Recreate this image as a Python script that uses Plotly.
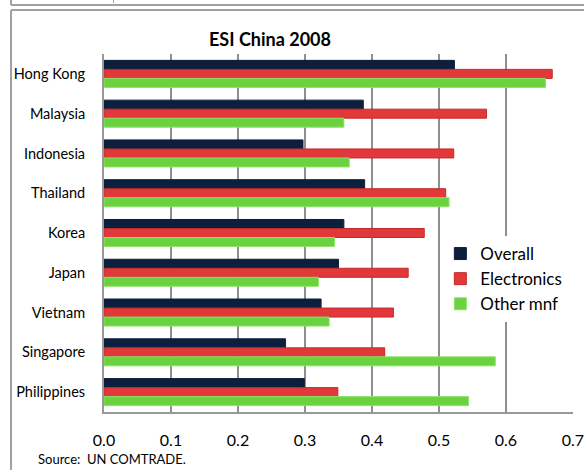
import plotly.graph_objects as go

countries = ['Hong Kong', 'Malaysia', 'Indonesia', 'Thailand', 'Korea',
             'Japan', 'Vietnam', 'Singapore', 'Philippines']
overall = [0.523, 0.387, 0.297, 0.389, 0.358, 0.350, 0.324, 0.271, 0.299]
electronics = [0.669, 0.571, 0.522, 0.510, 0.478, 0.454, 0.432, 0.419, 0.349]
other_mnf = [0.659, 0.358, 0.366, 0.515, 0.344, 0.320, 0.336, 0.584, 0.544]
x_ticks = [0.0, 0.1, 0.2, 0.3, 0.4, 0.5, 0.6, 0.7]

W, H = 584, 470
L, R, T, B = 103.5, 11.3, 54, 58
pw, ph = W - L - R, H - T - B
FONT = 'Lato'


def px(x):
    return (x - L) / pw


def py(y):
    return (H - B - y) / ph


fig = go.Figure()
series = [('Overall', overall, '#0c1f3c', '#0c1f3c'),
          ('Electronics', electronics, '#e2383a', '#c02c2a'),
          ('Other mnf', other_mnf, '#6ad13f', '#8ee26a')]
for name, vals, col, edge in series:
    fig.add_trace(go.Bar(
        y=countries,
        x=vals,
        name=name,
        orientation='h',
        marker=dict(color=col, line=dict(color=edge, width=1)),
    ))

shapes = []
line_col = '#a0a0a0'
# outer document frame lines
shapes.append(dict(type='line', xref='paper', yref='paper',
                   x0=px(10.5), x1=px(584), y0=py(5), y1=py(5),
                   line=dict(color=line_col, width=2)))
shapes.append(dict(type='line', xref='paper', yref='paper',
                   x0=px(10.5), x1=px(10.5), y0=py(0), y1=py(5),
                   line=dict(color=line_col, width=2)))
shapes.append(dict(type='line', xref='paper', yref='paper',
                   x0=px(113), x1=px(113), y0=py(0), y1=py(3),
                   line=dict(color=line_col, width=1)))
shapes.append(dict(type='line', xref='paper', yref='paper',
                   x0=px(10.5), x1=px(584), y0=py(10), y1=py(10),
                   line=dict(color=line_col, width=2)))
shapes.append(dict(type='line', xref='paper', yref='paper',
                   x0=px(10.5), x1=px(10.5), y0=py(10), y1=py(470),
                   line=dict(color=line_col, width=2)))

fig.update_layout(
    width=W, height=H,
    margin=dict(l=L, r=R, t=T, b=B, autoexpand=False),
    paper_bgcolor='white',
    plot_bgcolor='white',
    barmode='group',
    bargap=0.32,
    bargroupgap=0,
    title=dict(text='<b>ESI China 2008</b>', xref='container', x=270 / W,
               xanchor='center', yref='container', y=1 - 40 / H,
               yanchor='middle',
               font=dict(family=FONT, size=18, color='black')),
    font=dict(family=FONT, color='black'),
    xaxis=dict(range=[0, 0.70001], tickvals=x_ticks, tickformat='.1f',
               showgrid=True, gridcolor='#8f8f8f', gridwidth=1.5,
               showline=True, linecolor='#999999', linewidth=2,
               ticks='', ticklabelstandoff=13, automargin=False,
               ticklabeloverflow='allow',
               tickfont=dict(family=FONT, size=16, color='black'),
               zeroline=False, fixedrange=True),
    yaxis=dict(autorange='reversed', showgrid=False,
               showline=True, linecolor='#999999', linewidth=2,
               ticks='', ticklabelstandoff=14, automargin=False,
               tickfont=dict(family=FONT, size=14.5, color='black'),
               fixedrange=True),
    legend=dict(x=px(440), y=py(236), xanchor='left', yanchor='top',
                bgcolor='white', traceorder='normal',
                font=dict(family=FONT, size=17, color='black'),
                itemwidth=30, tracegroupgap=0),
    shapes=shapes,
    annotations=[dict(text='Source:  UN COMTRADE.', xref='paper', yref='paper',
                      x=px(35), y=py(459), xanchor='left', yanchor='middle',
                      showarrow=False,
                      font=dict(family=FONT, size=13, color='black'))],
)

fig.write_html('out.html', config={'displayModeBar': False},
               post_script="document.body.style.margin='0px';")
